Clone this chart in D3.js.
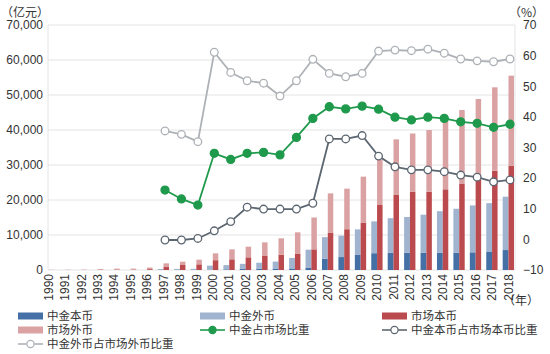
<!DOCTYPE html>
<html><head><meta charset="utf-8">
<script src="https://cdn.jsdelivr.net/npm/d3@7"></script>
<style>
body{margin:0;background:#fff;}
svg{display:block;font-family:"Liberation Sans",Arial,sans-serif;}
.cjk{font-family:"Noto Sans CJK SC","Liberation Sans",sans-serif;}
</style></head>
<body>
<svg id="c" width="550" height="354"></svg>
<script>
const years = d3.range(1990, 2019).map(String);
// 中金本币 (亿元)
const zjBen = [0,0,0,0,0,0,0, 0,0,10,80,180,380,400,430,450,700, 3200,3700,4300,4800,4950,4950,4950,4950,4950,5050,5150,5700];
// 中金外币 (亿元)
const zjWai = [0,0,0,0,0,0,0, 280,310,330,1170,1220,1370,1680,1970,3000,5100, 6200,6100,7300,9100,9850,10200,10850,11850,12550,13400,13950,15250];
// 市场本币 (亿元)
const scBen = [20,30,40,100,120,120,250, 850,1430,1620,2800,3050,3620,4000,4380,4570,5900, 10700,11650,13550,18570,21430,22380,22380,23050,24570,25900,28380,29810];
// 市场外币 (亿元)
const scWai = [30,30,40,200,280,280,450, 1050,950,1330,1960,2850,3050,3900,4670,6190,9100, 11200,11590,13120,12930,15900,16620,17620,20280,21140,22960,23810,25710];
// 中金占市场比重 (%)
const zjShare = [null,null,null,null,null,null,null, 16.1,13.2,11.2,28.1,26.1,28.1,28.4,27.6,33.3,39.5, 43.3,42.6,43.5,42.5,39.9,39.0,39.9,39.5,38.4,37.9,36.6,37.6];
// 中金本币占市场本币比重 (%)
const benShare = [null,null,null,null,null,null,null, -0.2,-0.2,0.3,2.8,5.8,10.5,9.9,9.9,9.9,11.8, 32.8,32.8,33.9,27.2,23.7,22.7,22.7,22.1,21.0,20.3,18.8,19.4];
// 中金外币占市场外币比重 (%)
const waiShare = [null,null,null,null,null,null,null, 35.4,34.3,31.9,61.1,54.5,51.8,51.0,46.8,51.8,58.8, 54.2,53.1,54.2,61.5,61.8,61.6,62.1,60.8,58.9,58.3,58.0,58.9];
const leftTicks = [0,10000,20000,30000,40000,50000,60000,70000];
const rightTicks = [-10,0,10,20,30,40,50,60,70];
const legendLabels = ["中金本币","中金外币","市场本币","市场外币","中金占市场比重","中金本币占市场本币比重","中金外币占市场外币比重"];

const C = {zjBen:"#4470a6", zjWai:"#a0b4d0", scBen:"#bb4a4e", scWai:"#dba2a4",
  green:"#1f9a4c", dark:"#5c6670", light:"#aeb2b7", grid:"#e4e4e4", text:"#333"};

const svg = d3.select("#c");
const pTop = 25, pBottom = 270, pLeft = 48, pRight = 515;
const x = d3.scaleBand().domain(years).range([40.3, 516.7]).paddingInner(0).paddingOuter(0);
const cx = d => x(d) + x.bandwidth()/2;
const yL = d3.scaleLinear().domain([0,70000]).range([pBottom, pTop]);
const yR = d3.scaleLinear().domain([-10,70]).range([pBottom, pTop]);

// gridlines
svg.append("g").selectAll("line").data(leftTicks).join("line")
  .attr("x1", pLeft).attr("x2", pRight).attr("y1", d=>yL(d)).attr("y2", d=>yL(d))
  .attr("stroke", C.grid).attr("stroke-width", 1);
svg.append("line").attr("x1",pLeft).attr("x2",pLeft).attr("y1",pTop).attr("y2",pBottom).attr("stroke",C.grid);
svg.append("line").attr("x1",pRight).attr("x2",pRight).attr("y1",pTop).attr("y2",pBottom).attr("stroke",C.grid);

// left axis
const axL = svg.append("g").attr("transform", `translate(${pLeft},0)`)
  .call(d3.axisLeft(yL).tickValues(leftTicks).tickFormat(d3.format(",")).tickSize(0).tickPadding(5));
axL.select(".domain").remove();
axL.selectAll("text").attr("font-size", 12).attr("fill", C.text).attr("font-family","Liberation Sans, Arial, sans-serif");

// right axis
const axR = svg.append("g").attr("transform", `translate(${pRight},0)`)
  .call(d3.axisRight(yR).tickValues(rightTicks).tickSize(0).tickPadding(8));
axR.select(".domain").remove();
axR.selectAll("text").attr("font-size", 12).attr("fill", C.text).attr("font-family","Liberation Sans, Arial, sans-serif");

// x axis labels
const axX = svg.append("g").attr("transform", `translate(0,${pBottom})`)
  .call(d3.axisBottom(x).tickSize(0).tickPadding(0));
axX.select(".domain").remove();
axX.selectAll("text").attr("font-size", 12).attr("fill", C.text)
  .attr("font-family","Liberation Sans, Arial, sans-serif")
  .attr("text-anchor","end").attr("transform","rotate(-90)")
  .attr("x",-4).attr("y",0).attr("dy","0.35em");

// units
svg.append("text").attr("class","cjk").attr("x",1).attr("y",17).attr("font-size",12).attr("fill",C.text).text("（亿元）");
svg.append("text").attr("class","cjk").attr("x",509).attr("y",17).attr("font-size",12).attr("fill",C.text).text("（%）");
svg.append("text").attr("class","cjk").attr("x",503).attr("y",305).attr("font-size",12).attr("fill",C.text).text("（年）");

// bars
const bw = 5.8;
const rows = years.map((yr,i)=>({yr, zb:zjBen[i], zw:zjWai[i], sb:scBen[i], sw:scWai[i]}));
const gB = svg.append("g");
gB.selectAll(".zb").data(rows).join("rect")
  .attr("x", d=>cx(d.yr)-bw).attr("width", bw)
  .attr("y", d=>yL(d.zb)).attr("height", d=>yL(0)-yL(d.zb)).attr("fill", C.zjBen);
gB.selectAll(".zw").data(rows).join("rect")
  .attr("x", d=>cx(d.yr)-bw).attr("width", bw)
  .attr("y", d=>yL(d.zb+d.zw)).attr("height", d=>yL(d.zb)-yL(d.zb+d.zw)).attr("fill", C.zjWai);
gB.selectAll(".sb").data(rows).join("rect")
  .attr("x", d=>cx(d.yr)).attr("width", bw-0.3)
  .attr("y", d=>yL(d.sb)).attr("height", d=>yL(0)-yL(d.sb)).attr("fill", C.scBen);
gB.selectAll(".sw").data(rows).join("rect")
  .attr("x", d=>cx(d.yr)).attr("width", bw-0.3)
  .attr("y", d=>yL(d.sb+d.sw)).attr("height", d=>yL(d.sb)-yL(d.sb+d.sw)).attr("fill", C.scWai);

// lines
const off = 1.5;
function drawLine(vals, color, filled){
  const pts = years.map((yr,i)=>({yr, v:vals[i]})).filter(d=>d.v!==null);
  const line = d3.line().x(d=>cx(d.yr)+off).y(d=>yR(d.v));
  svg.append("path").datum(pts).attr("d", line).attr("fill","none")
    .attr("stroke", color).attr("stroke-width", 1.8);
  svg.append("g").selectAll("circle").data(pts).join("circle")
    .attr("cx", d=>cx(d.yr)+off).attr("cy", d=>yR(d.v)).attr("r", filled?4:3.8)
    .attr("fill", filled?color:"#fff").attr("stroke", color).attr("stroke-width", 1.3);
}
drawLine(waiShare, C.light, false);
drawLine(benShare, C.dark, false);
drawLine(zjShare, C.green, true);

// legend
const legItems = [
  {t:legendLabels[0], type:"rect", c:C.zjBen, x:18, y:316},
  {t:legendLabels[1], type:"rect", c:C.zjWai, x:200, y:316},
  {t:legendLabels[2], type:"rect", c:C.scBen, x:382, y:316},
  {t:legendLabels[3], type:"rect", c:C.scWai, x:18, y:330},
  {t:legendLabels[4], type:"fill", c:C.green, x:200, y:330},
  {t:legendLabels[5], type:"open", c:C.dark, x:382, y:330},
  {t:legendLabels[6], type:"open", c:C.light, x:18, y:344}
];
const lg = svg.append("g");
legItems.forEach(d=>{
  if(d.type==="rect"){
    lg.append("rect").attr("x",d.x).attr("y",d.y-3.5).attr("width",25).attr("height",7).attr("fill",d.c);
  } else {
    lg.append("line").attr("x1",d.x).attr("x2",d.x+25).attr("y1",d.y).attr("y2",d.y).attr("stroke",d.c).attr("stroke-width",1.6);
    lg.append("circle").attr("cx",d.x+12.5).attr("cy",d.y).attr("r",3.6)
      .attr("fill", d.type==="fill"?d.c:"#fff").attr("stroke",d.c).attr("stroke-width",1.2);
  }
  lg.append("text").attr("class","cjk").attr("x",d.x+29).attr("y",d.y).attr("dy","0.36em")
    .attr("font-size",11.5).attr("fill",C.text).text(d.t);
});
</script>
</body></html>
